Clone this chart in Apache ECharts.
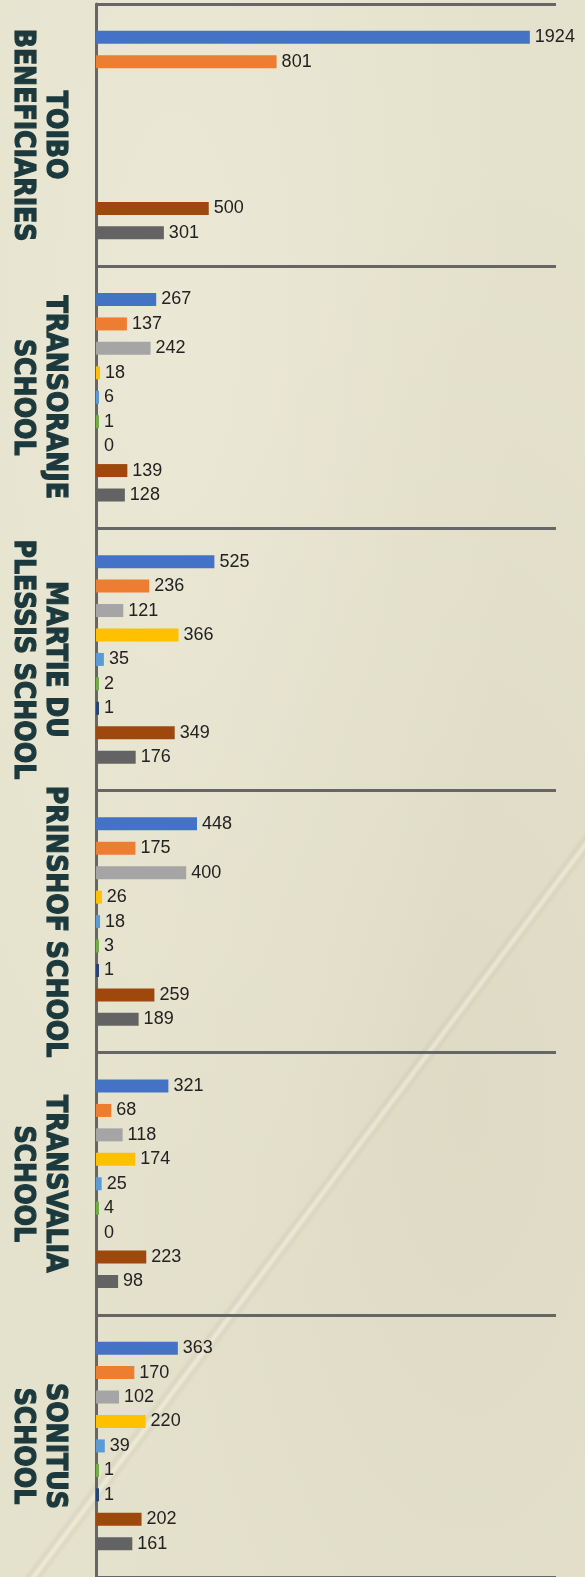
<!DOCTYPE html>
<html>
<head>
<meta charset="utf-8">
<script src="https://cdn.jsdelivr.net/npm/echarts@6/dist/echarts.min.js"></script>
<style>
html,body{margin:0;padding:0;}
body{
  width:585px;height:1577px;overflow:hidden;
  background:
    linear-gradient(127deg, rgba(0,0,0,0) 68.3%, rgba(150,140,100,0.12) 68.6%, rgba(255,255,245,0.35) 68.9%, rgba(150,140,100,0.10) 69.2%, rgba(0,0,0,0) 69.5%),
    radial-gradient(ellipse at 30% 20%, rgba(255,255,240,0.25), rgba(0,0,0,0) 60%),
    radial-gradient(ellipse at 80% 70%, rgba(200,195,170,0.2), rgba(0,0,0,0) 60%),
    #e4e1cc;
}
#chart{width:585px;height:1577px;}
</style>
</head>
<body>
<div id="chart"></div>
<script>
const categories = [
  'TOIBO\nBENEFICIARIES',
  'TRANSORANJE\nSCHOOL',
  'MARTIE DU\nPLESSIS SCHOOL',
  'PRINSHOF SCHOOL',
  'TRANSVALIA\nSCHOOL',
  'SONITUS\nSCHOOL'
];
const seriesNames = ['Series 1','Series 2','Series 3','Series 4','Series 5','Series 6','Series 7','Series 8','Series 9'];
const seriesColors = ['#4472C4','#ED7D31','#A5A5A5','#FFC000','#5B9BD5','#70AD47','#264478','#9E480E','#636363'];
const s1 = [1924, 267, 525, 448, 321, 363];
const s2 = [801, 137, 236, 175, 68, 170];
const s3 = [null, 242, 121, 400, 118, 102];
const s4 = [null, 18, 366, 26, 174, 220];
const s5 = [null, 6, 35, 18, 25, 39];
const s6 = [null, 1, 2, 3, 4, 1];
const s7 = [null, 0, 1, 1, 0, 1];
const s8 = [500, 139, 349, 259, 223, 202];
const s9 = [301, 128, 176, 189, 98, 161];
const seriesValues = [s1, s2, s3, s4, s5, s6, s7, s8, s9];

const chart = echarts.init(document.getElementById('chart'), null, {renderer: 'canvas'});

const series = seriesValues.map((vals, i) => ({
  name: seriesNames[i],
  type: 'bar',
  barWidth: 13,
  barGap: '88%',
  barMinHeight: 3,
  itemStyle: {color: seriesColors[i]},
  data: vals.map(v => v === 0 ? {value: 0, itemStyle: {color: 'rgba(0,0,0,0)'}} : v),
  label: {
    show: true,
    position: 'right',
    distance: 5,
    fontFamily: 'Liberation Sans, Arial, sans-serif',
    fontSize: 18,
    color: '#222222'
  }
}));

chart.setOption({
  animation: false,
  backgroundColor: 'transparent',
  grid: {left: 96, right: 29, top: 4, bottom: -5, containLabel: false},
  xAxis: {
    type: 'value',
    min: 0,
    max: 2040,
    show: false
  },
  yAxis: {
    type: 'category',
    inverse: true,
    data: categories,
    axisLine: {show: true, lineStyle: {color: '#666666', width: 3}},
    axisTick: {show: false},
    splitLine: {show: true, interval: 0, lineStyle: {color: '#666666', width: 3}},
    axisLabel: {
      interval: 0,
      rotate: -90,
      margin: 26,
      fontFamily: "'Liberation Sans Narrow', 'DejaVu Sans Condensed', sans-serif",
      fontWeight: 'bold',
      fontSize: 28,
      lineHeight: 32,
      color: '#1c3a3d',
      textBorderColor: '#1c3a3d',
      textBorderWidth: 1.2
    }
  },
  series: series
});
</script>
</body>
</html>
